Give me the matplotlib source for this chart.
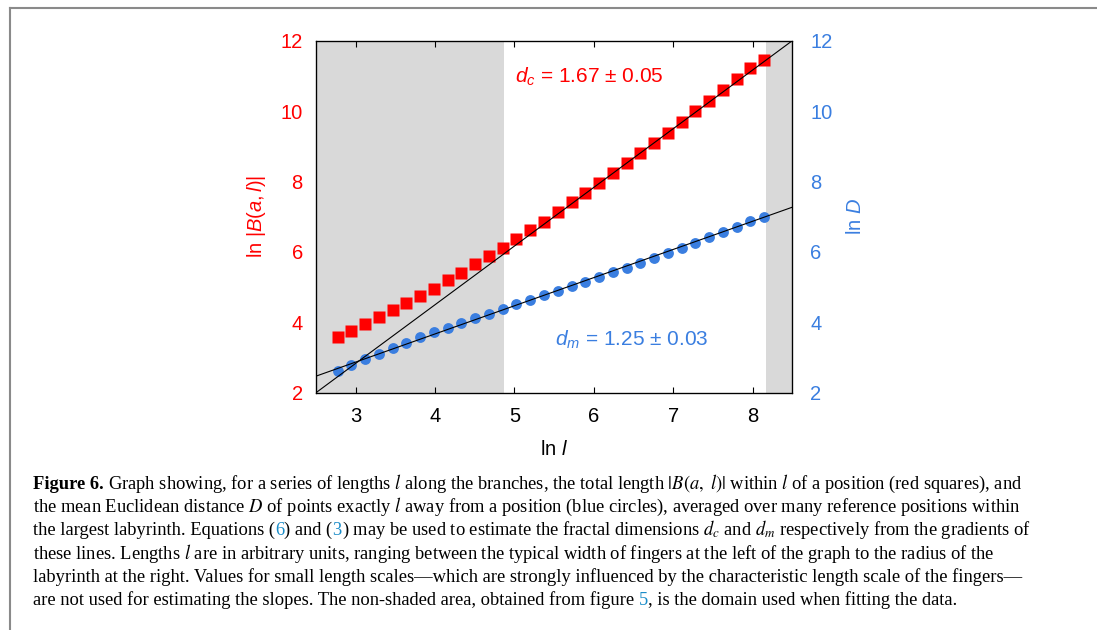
import matplotlib
matplotlib.use("Agg")
import matplotlib.pyplot as plt
from matplotlib.lines import Line2D

plt.rcParams['font.family'] = ['Liberation Sans', 'DejaVu Sans']
plt.rcParams['mathtext.fontset'] = 'custom'
plt.rcParams['mathtext.rm'] = 'Liberation Sans'
plt.rcParams['mathtext.it'] = 'Liberation Sans:italic'
plt.rcParams['mathtext.bf'] = 'Liberation Sans:bold'

# ---------------- data ----------------
ln_l = [2.773, 2.946, 3.119, 3.292, 3.466, 3.639, 3.812, 3.986, 4.159, 4.332,
        4.506, 4.679, 4.852, 5.025, 5.199, 5.372, 5.545, 5.719, 5.892, 6.065,
        6.238, 6.412, 6.585, 6.758, 6.932, 7.105, 7.278, 7.451, 7.625, 7.798,
        7.971, 8.145]
ln_B = [3.57, 3.76, 3.94, 4.14, 4.34, 4.55, 4.75, 4.96, 5.19, 5.41,
        5.65, 5.88, 6.11, 6.38, 6.61, 6.86, 7.13, 7.41, 7.67, 7.96,
        8.23, 8.52, 8.81, 9.10, 9.39, 9.69, 9.99, 10.30, 10.61, 10.91,
        11.22, 11.45]
ln_D = [2.625, 2.80, 2.955, 3.106, 3.267, 3.418, 3.570, 3.711, 3.844, 3.985,
        4.118, 4.250, 4.38, 4.51, 4.64, 4.77, 4.90, 5.035, 5.158, 5.290,
        5.432, 5.555, 5.697, 5.838, 5.980, 6.122, 6.263, 6.424, 6.565, 6.72,
        6.87, 7.00]
fit_x = [2.5, 8.5]
fit_B = [2.0, 12.0]
fit_D = [2.47, 7.27]
shade_left = [2.5, 4.87]
shade_right = [8.165, 8.5]
xticks = [3, 4, 5, 6, 7, 8]
yticks = [2, 4, 6, 8, 10, 12]
label_dc = r"$d_c$ = 1.67 ± 0.05"
label_dm = r"$d_m$ = 1.25 ± 0.03"

RED = '#ff0000'
BLUE = '#3a7ee0'
SHADE = '#d9d9d9'

W, H, DPI = 1097, 630, 100
fig = plt.figure(figsize=(W / DPI, H / DPI), dpi=DPI)
renderer = fig.canvas.get_renderer()

ax = fig.add_axes([316 / W, 1 - 392.7 / H, 476.3 / W, 352 / H])
ax.axvspan(*shade_left, color=SHADE, lw=0, zorder=0)
ax.axvspan(*shade_right, color=SHADE, lw=0, zorder=0)
ax.plot(ln_l, ln_B, ls='none', marker='s', ms=9.2, color=RED, mec='none', zorder=2)
ax.plot(ln_l, ln_D, ls='none', marker='o', ms=7.8, color=BLUE, mec='none', zorder=2)
ax.plot(fit_x, fit_B, color='black', lw=0.8, zorder=3)
ax.plot(fit_x, fit_D, color='black', lw=0.8, zorder=3)
ax.set_xlim(2.5, 8.5)
ax.set_ylim(2, 12)
ax.set_xticks(xticks)
ax.set_yticks(yticks)
ax.tick_params(axis='x', direction='in', top=True, length=4, width=0.8,
               labelsize=14.5, pad=10, colors='black')
ax.tick_params(axis='y', length=0, labelsize=14.5, pad=9.5, labelcolor=RED)
for sp in ax.spines.values():
    sp.set_linewidth(0.9)
ax.set_xlabel(r"ln $\mathit{l}$", fontsize=14.5)
ax.set_ylabel(r"ln $|\mathit{B(a,l)}|$", fontsize=14.5, color=RED)
ax.xaxis.set_label_coords(0.5, -0.133)
ax.yaxis.set_label_coords(-0.1015, 0.5)
ax.text(5.01, 10.82, label_dc, color=RED, fontsize=15, ha='left', va='baseline')
ax.text(5.51, 3.33, label_dm, color=BLUE, fontsize=15, ha='left', va='baseline')

ax2 = ax.twinx()
ax2.set_ylim(2, 12)
ax2.set_yticks(yticks)
ax2.tick_params(axis='y', length=0, labelsize=14.5, pad=13, labelcolor=BLUE)
ax2.set_ylabel(r"ln $\mathit{D}$", fontsize=14.5, color=BLUE)
ax2.yaxis.set_label_coords(1.112, 0.5)

# frame lines
fig.add_artist(Line2D([9.5 / W, 1], [1 - 8 / H, 1 - 8 / H], transform=fig.transFigure,
                      color='#8a8a8a', lw=1.5))
fig.add_artist(Line2D([9.5 / W, 9.5 / W], [0, 1 - 8 / H], transform=fig.transFigure,
                      color='#8a8a8a', lw=1.5))

# ---------------- caption ----------------
LINKB = '#1a8cc8'
K = 'black'
cap_lines = [
    [("Figure 6. ", K, 'bold'),
     (r"Graph showing, for a series of lengths $l$ along the branches, the total length $|B(a,\ l)|$ within $l$ of a position (red squares), and", K, 'normal')],
    [(r"the mean Euclidean distance $D$ of points exactly $l$ away from a position (blue circles), averaged over many reference positions within", K, 'normal')],
    [("the largest labyrinth. Equations (", K, 'normal'), ("6", LINKB, 'normal'),
     (") and (", K, 'normal'), ("3", LINKB, 'normal'),
     (r") may be used to estimate the fractal dimensions $d_c$ and $d_m$ respectively from the gradients of", K, 'normal')],
    [(r"these lines. Lengths $l$ are in arbitrary units, ranging between the typical width of fingers at the left of the graph to the radius of the", K, 'normal')],
    [("labyrinth at the right. Values for small length scales—which are strongly influenced by the characteristic length scale of the fingers—", K, 'normal')],
    [("are not used for estimating the slopes. The non-shaded area, obtained from figure ", K, 'normal'),
     ("5", LINKB, 'normal'), (", is the domain used when fitting the data.", K, 'normal')],
]
cap_ends = [1023, 1020, 1032, 989, 1024, 967]
x0 = 33
baselines = [489, 512.2, 535.4, 558.6, 581.8, 605]


def props(fs, weight):
    return dict(family=['Liberation Serif', 'DejaVu Serif'], math_fontfamily='stix',
                fontsize=fs, fontweight=weight)


def tw(s, **kw):
    t = fig.text(0, 0, s, **kw)
    w = t.get_window_extent(renderer).width
    t.remove()
    return w


def adv(s, **kw):
    return tw(s + "x", **kw) - tw("x", **kw)


fs0 = 12.0
tot = 0
for segs in cap_lines:
    for s, c, wgt in segs:
        tot += adv(s, **props(fs0, wgt))
target = sum(e - x0 for e in cap_ends)
fs = fs0 * target / tot

for segs, yb in zip(cap_lines, baselines):
    x = x0
    for s, c, wgt in segs:
        fig.text(x / W, 1 - yb / H, s, color=c, ha='left', va='baseline', **props(fs, wgt))
        x += adv(s, **props(fs, wgt))

fig.savefig("out.png", dpi=DPI)
